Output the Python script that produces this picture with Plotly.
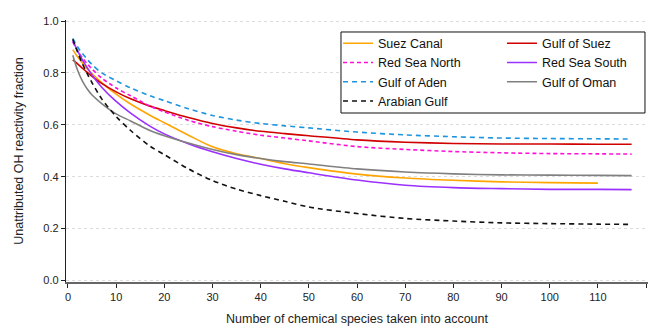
import plotly.graph_objects as go

# Number of chemical species considered (x) and the remaining unattributed fraction per region
species = [1, 2, 3, 4, 5, 7, 10, 13, 17, 20, 25, 30, 35, 40, 45, 50, 60, 70, 80, 90, 100, 110, 117]
species_suez_canal = species[:-1]  # this series stops at 110

suez_canal = [0.890, 0.862, 0.838, 0.816, 0.797, 0.763, 0.718, 0.680, 0.637, 0.608, 0.560, 0.515,
              0.488, 0.470, 0.450, 0.435, 0.410, 0.395, 0.386, 0.380, 0.377, 0.375]
gulf_of_suez = [0.850, 0.835, 0.818, 0.802, 0.787, 0.760, 0.727, 0.700, 0.672, 0.655, 0.628, 0.605,
                0.588, 0.575, 0.566, 0.558, 0.542, 0.533, 0.528, 0.526, 0.526, 0.525, 0.525]
red_sea_north = [0.920, 0.885, 0.858, 0.835, 0.815, 0.780, 0.742, 0.712, 0.672, 0.650, 0.617, 0.593,
                 0.575, 0.560, 0.549, 0.538, 0.516, 0.505, 0.497, 0.492, 0.489, 0.488, 0.487]
red_sea_south = [0.925, 0.885, 0.850, 0.820, 0.792, 0.745, 0.690, 0.645, 0.595, 0.565, 0.527, 0.496,
                 0.470, 0.448, 0.430, 0.415, 0.387, 0.367, 0.358, 0.354, 0.351, 0.351, 0.350]
gulf_of_aden = [0.933, 0.900, 0.875, 0.852, 0.832, 0.800, 0.770, 0.742, 0.712, 0.693, 0.662, 0.636,
                0.618, 0.605, 0.596, 0.588, 0.572, 0.561, 0.554, 0.549, 0.547, 0.546, 0.545]
gulf_of_oman = [0.868, 0.810, 0.768, 0.738, 0.715, 0.682, 0.642, 0.615, 0.578, 0.558, 0.530, 0.505,
                0.485, 0.470, 0.458, 0.449, 0.430, 0.418, 0.411, 0.407, 0.406, 0.405, 0.404]
arabian_gulf = [0.930, 0.880, 0.835, 0.797, 0.762, 0.700, 0.632, 0.578, 0.518, 0.485, 0.430, 0.385,
                0.352, 0.327, 0.305, 0.283, 0.258, 0.239, 0.229, 0.222, 0.219, 0.217, 0.216]

x_ticks = list(range(0, 121, 10))
y_ticks = [0.0, 0.2, 0.4, 0.6, 0.8, 1.0]

# name, x, y, colour, dash, legend column
series = [
    ("Suez Canal", species_suez_canal, suez_canal, "#FFA500", "solid", "legend"),
    ("Gulf of Suez", species, gulf_of_suez, "#D00000", "solid", "legend2"),
    ("Red Sea North", species, red_sea_north, "#FF10D8", "4px,3px", "legend"),
    ("Red Sea South", species, red_sea_south, "#9B30FF", "solid", "legend2"),
    ("Gulf of Aden", species, gulf_of_aden, "#1C95E0", "5px,4px", "legend"),
    ("Gulf of Oman", species, gulf_of_oman, "#808080", "solid", "legend2"),
    ("Arabian Gulf", species, arabian_gulf, "#111111", "5px,4px", "legend"),
]

fig = go.Figure()
for name, xs, ys, color, dash, leg in series:
    fig.add_trace(go.Scatter(
        x=xs, y=ys, name=name, mode="lines", legend=leg,
        line=dict(color=color, width=1.6, dash=dash, shape="spline", smoothing=0.8),
    ))

FONT = "Liberation Sans, Arial, sans-serif"
x_range = [-0.41, 120.4]
y_range = [-0.006, 1.004]

common_x = dict(range=x_range, tickvals=x_ticks, showgrid=False, zeroline=False)
common_y = dict(range=y_range, tickvals=y_ticks, zeroline=False)
tick_style = dict(ticklen=4, tickcolor="#222", tickwidth=1.2)

legend_common = dict(
    orientation="v", yanchor="top", xanchor="left", y=0.967,
    bgcolor="rgba(0,0,0,0)", borderwidth=0,
    font=dict(family=FONT, size=12.5, color="#111"),
    itemwidth=30, tracegroupgap=0,
)

fig.update_layout(
    width=654, height=330,
    margin=dict(l=66, r=6, t=20, b=48),
    paper_bgcolor="white", plot_bgcolor="white",
    font=dict(family=FONT, size=11, color="#222"),
    showlegend=True,
    legend=dict(**legend_common, x=0.4674),
    legend2=dict(**legend_common, x=0.7491),
    # framed, white-filled box behind the two legend columns
    shapes=[dict(type="rect", xref="paper", yref="paper",
                 x0=0.4725, x1=0.9948, y0=0.645, y1=0.9542,
                 line=dict(color="#111", width=1), fillcolor="white", layer="above")],
    # bottom axis: labels, line and outward ticks
    xaxis=dict(**common_x, **tick_style, side="bottom", showline=True, linecolor="#666",
               linewidth=1.8, ticks="outside",
               title=dict(text="Number of chemical species taken into account",
                          font=dict(size=12.5, color="#222"), standoff=12)),
    # top axis: line and outward ticks
    xaxis2=dict(**common_x, **tick_style, overlaying="x", side="top", showline=True,
                linecolor="#222", linewidth=1.3, ticks="outside",
                showticklabels=False, anchor="y"),
    # inward ticks on both bottom and top
    xaxis3=dict(**common_x, **tick_style, overlaying="x", side="bottom", showline=False,
                mirror="ticks", ticks="inside", showticklabels=False, anchor="y"),
    yaxis=dict(**common_y, **tick_style, side="left", showline=True, linecolor="#222",
               linewidth=1.3, ticks="outside", tickformat=".1f",
               showgrid=True, gridcolor="#dcdcdc", griddash="dot", gridwidth=1,
               title=dict(text="Unattributed OH reactivity fraction",
                          font=dict(size=12.5, color="#222"), standoff=16)),
    yaxis2=dict(**common_y, **tick_style, overlaying="y", side="right", showline=True,
                linecolor="#777", linewidth=1.8, ticks="outside",
                showticklabels=False, showgrid=False, anchor="x"),
    yaxis3=dict(**common_y, **tick_style, overlaying="y", side="left", showline=False,
                mirror="ticks", ticks="inside", showticklabels=False, showgrid=False, anchor="x"),
)

fig.write_html("out.html")
